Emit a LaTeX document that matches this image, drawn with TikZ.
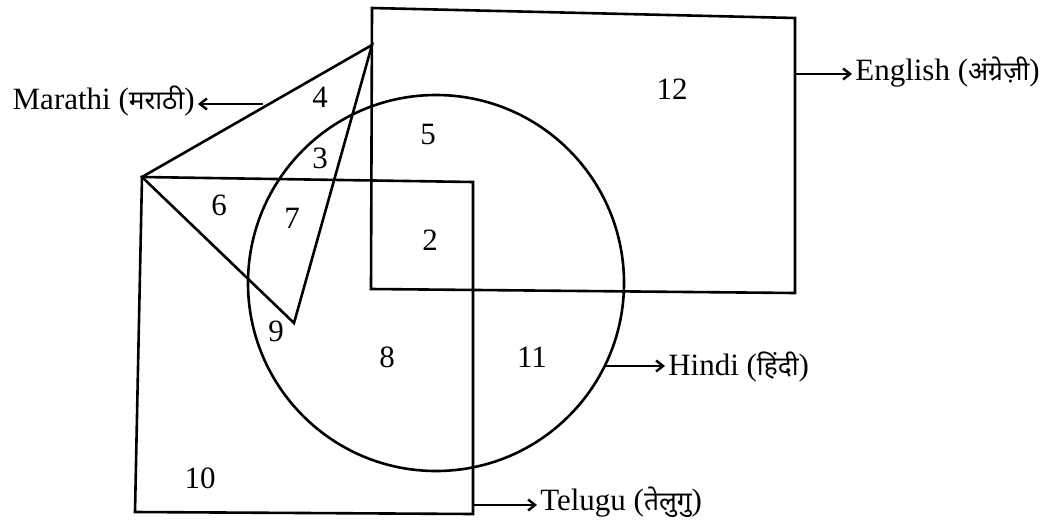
\documentclass[tikz,border=0pt]{standalone}
\usepackage{fontspec}
\setmainfont{Liberation Serif}
\newfontfamily\deva[Script=Devanagari,Scale=0.85]{Noto Sans}
\usetikzlibrary{arrows.meta}
\begin{document}
\begin{tikzpicture}[x=1pt,y=-1pt,line width=2.6pt,line join=miter,
  outline/.style={draw=black},
  num/.style={font=\fontsize{31}{36}\selectfont,inner sep=0pt},
  lbl/.style={font=\fontsize{31}{36}\selectfont,inner sep=2pt},
  pointer/.style={draw=black,line width=2.4pt,-{Straight Barb[length=7pt,width=11pt,line width=2.4pt]}}]
\useasboundingbox (0,0) rectangle (1048,525);
% English rectangle
\coordinate (e1) at (372,8);
\coordinate (e2) at (795,18);
\coordinate (e3) at (795,293);
\coordinate (e4) at (371,289);
\draw[outline] (e1) -- (e2) -- (e3) -- (e4) -- cycle;
% Telugu rectangle
\coordinate (t1) at (142,177);
\coordinate (t2) at (473,182);
\coordinate (t3) at (473,514);
\coordinate (t4) at (135,512);
\draw[outline] (t1) -- (t2) -- (t3) -- (t4) -- cycle;
% Hindi circle
\coordinate (hc) at (436,283);
\draw[outline] (hc) circle[radius=188];
% Marathi triangle
\coordinate (m2) at (372,45);
\coordinate (m3) at (294,323);
\draw[outline] (t1) -- (m2) -- (m3) -- cycle;
% labels
\node[lbl,anchor=east] (mar) at (198,101) {Marathi ({\deva मराठी})};
\node[lbl,anchor=west] (eng) at (852,72) {English ({\deva अंग्रेज़ी})};
\node[lbl,anchor=west] (hin) at (665,367) {Hindi ({\deva हिंदी})};
\node[lbl,anchor=west] (tel) at (537,502) {Telugu ({\deva तेलुगु})};
\coordinate (ms) at (263,104);
\coordinate (es) at (795,74);
\coordinate (hs) at (605,366);
\coordinate (ts) at (473,505);
\draw[pointer] (ms) -- (ms -| mar.east);
\draw[pointer] (es) -- (es -| eng.west);
\draw[pointer] (hs) -- (hs -| hin.west);
\draw[pointer] (ts) -- (ts -| tel.west);
% region numbers
\node[num] (n4) at (320,97) {4};
\node[num] (n12) at (672,89) {12};
\node[num] (n5) at (428,134) {5};
\node[num] (n3) at (320,158) {3};
\node[num] (n6) at (219,205) {6};
\node[num] (n7) at (292,218) {7};
\node[num] (n2) at (430,240) {2};
\node[num] (n9) at (276,331) {9};
\node[num] (n8) at (387,357) {8};
\node[num] (n11) at (532,357) {11};
\node[num] (n10) at (200,478) {10};
\end{tikzpicture}
\end{document}
